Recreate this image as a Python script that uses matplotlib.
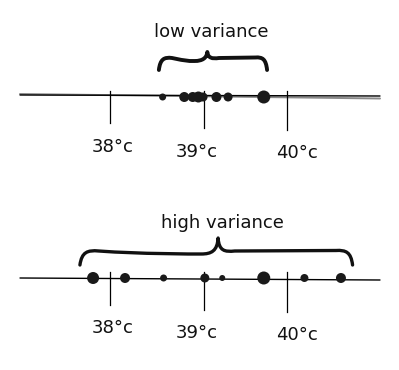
import matplotlib
matplotlib.use("Agg")
import matplotlib.pyplot as plt
from matplotlib.path import Path
from matplotlib.patches import PathPatch
import numpy as np

# body temperature readings (deg C)
low_temps = [38.56, 38.79, 38.88, 38.94, 38.99, 39.15, 39.29, 39.72]
high_temps = [37.82, 38.16, 38.57, 39.01, 39.22, 39.72, 40.21, 40.65]
tick_temps = [38, 39, 40]
tick_labels = ["38°c", "39°c", "40°c"]
titles = ["low variance", "high variance"]

# styling (dot diameter in px, hand drawn so they vary)
low_dot_px = [7, 10, 10, 11, 9, 10, 9, 13]
high_dot_px = [12, 10, 7, 9, 6, 13, 8, 10]

# the hand-drawn axis is not evenly spaced: 38->110px, 39->204px, 40->287px
ref_t = np.array([36.0, 38.0, 39.0, 40.0, 42.0])
ref_px = np.array([-78.0, 110.0, 204.0, 287.0, 453.0])


def fwd(t):
    return np.interp(t, ref_t, ref_px)


def inv(p):
    return np.interp(p, ref_px, ref_t)


def brace(ax, x0, x1, xm, y_end, y_flat, y_peak, r, sag, lw):
    # curly brace, a bit wobbly like the hand sketch
    yl = y_flat + sag          # left arm sags a little
    verts = [(x0, y_end), (x0 + 0.1 * r, y_flat + 1), (x0 + 0.4 * r, y_flat - 1), (x0 + r, y_flat),
             (x0 + r + (xm - x0) * 0.3, yl), (xm - 1.6 * r, yl), (xm - r, yl),
             (xm - 0.4 * r, yl), (xm - 0.05 * r, y_flat), (xm, y_peak),
             (xm + 0.05 * r, y_flat), (xm + 0.4 * r, y_flat + 1), (xm + r, y_flat),
             (x1 - r, y_flat - 0.5),
             (x1 - 0.4 * r, y_flat - 1), (x1 - 0.1 * r, y_flat + 1), (x1, y_end)]
    codes = [Path.MOVETO, Path.CURVE4, Path.CURVE4, Path.CURVE4,
             Path.CURVE4, Path.CURVE4, Path.CURVE4,
             Path.CURVE4, Path.CURVE4, Path.CURVE4,
             Path.CURVE4, Path.CURVE4, Path.CURVE4,
             Path.LINETO,
             Path.CURVE4, Path.CURVE4, Path.CURVE4]
    ax.add_patch(PathPatch(Path(verts, codes), fill=False, lw=lw, color='#111111',
                           capstyle='round', joinstyle='round'))


fig = plt.figure(figsize=(3.99, 3.70), dpi=100)
ax = fig.add_axes([0, 0, 1, 1])
ax.set_xscale('function', functions=(fwd, inv))
ax.set_xlim(inv(0), inv(399))
ax.set_ylim(370, 0)   # vertical layout in px, top down
ax.axis('off')

font = dict(family='DejaVu Sans', fontsize=13, color='#111111')

rows = [
    dict(temps=low_temps, dots=low_dot_px, title=titles[0],
         line_y=(95, 96), dot_y=97, tick_top=91, tick_bot=[123, 128, 130],
         lab_y=[147, 152, 153], end_y=70, flat_y=58, peak_y=52, title_y=32,
         pad=0.04, r=0.14, sag=3, brace_lw=2.8, ghost=True),
    dict(temps=high_temps, dots=high_dot_px, title=titles[1],
         line_y=(278, 280), dot_y=278, tick_top=272, tick_bot=[305, 310, 312],
         lab_y=[328, 333, 335], end_y=265, flat_y=251, peak_y=238, title_y=223,
         pad=0.14, r=0.2, sag=3, brace_lw=2.4, ghost=False),
]
lab_nudge = [0.03, -0.08, 0.12]

for row in rows:
    t = np.array(row['temps'])
    xl, xr = inv(20), inv(380)
    if row['ghost']:
        ax.plot([xl, xr], [94, 98.5], color='#8a8a8a', lw=1.4, solid_capstyle='round')
    ax.plot([xl, xr], list(row['line_y']), color='black', lw=1.0, solid_capstyle='round')

    for tt, yb in zip(tick_temps, row['tick_bot']):
        ax.plot([tt, tt], [row['tick_top'], yb], color='black', lw=0.9)
    for tt, lab, ly, dx in zip(tick_temps, tick_labels, row['lab_y'], lab_nudge):
        ax.text(tt + dx, ly, lab, ha='center', va='center', **font)

    sizes = (np.array(row['dots']) * 0.72) ** 2
    ax.scatter(t, np.full(len(t), row['dot_y']), s=sizes, color='#1a1a1a',
               edgecolors='none', zorder=3)

    mid = t.mean()
    brace(ax, t.min() - row['pad'], t.max() + row['pad'], mid,
          row['end_y'], row['flat_y'], row['peak_y'], row['r'], row['sag'],
          row['brace_lw'])
    ax.text(mid + 0.05, row['title_y'], row['title'], ha='center', va='center', **font)

fig.savefig("out.png", dpi=100)
